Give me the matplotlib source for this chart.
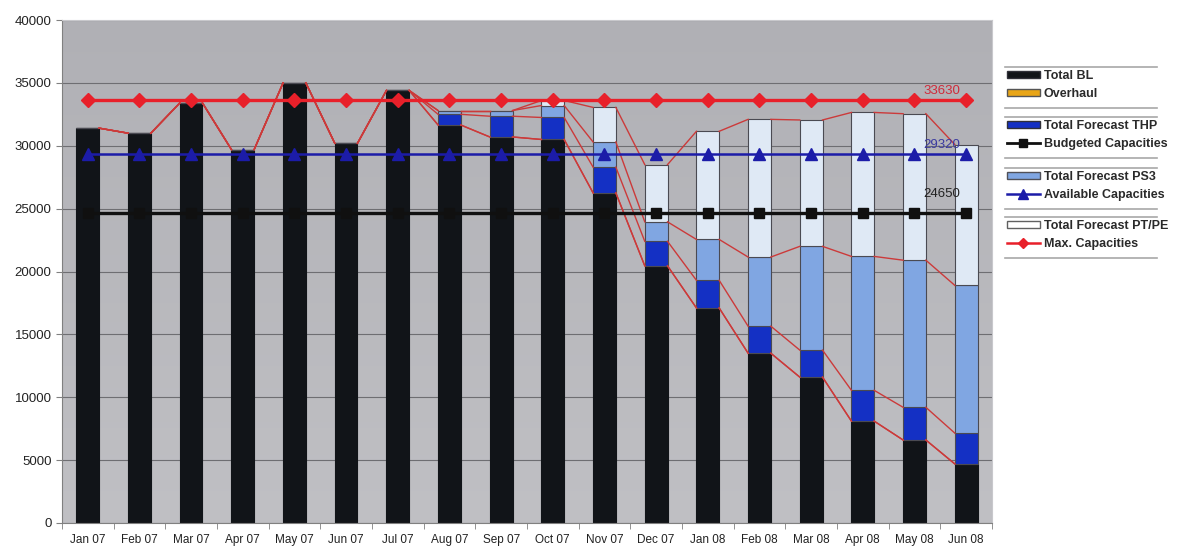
import numpy as np
import matplotlib.pyplot as plt
from matplotlib.colors import LinearSegmentedColormap
from matplotlib.patches import Patch
from matplotlib.lines import Line2D

plt.rcParams['font.family'] = ['Liberation Sans', 'DejaVu Sans']

months = ['Jan 07', 'Feb 07', 'Mar 07', 'Apr 07', 'May 07', 'Jun 07',
          'Jul 07', 'Aug 07', 'Sep 07', 'Oct 07', 'Nov 07', 'Dec 07',
          'Jan 08', 'Feb 08', 'Mar 08', 'Apr 08', 'May 08', 'Jun 08']

total_bl = [31400, 31000, 33400, 29700, 35000, 30200, 34400, 31650, 30700, 30500,
            26250, 20450, 17100, 13500, 11600, 8100, 6600, 4700]
overhaul = [0] * 18
forecast_thp = [0, 0, 0, 0, 0, 0, 0, 850, 1650, 1750,
                2050, 1950, 2200, 2150, 2150, 2450, 2600, 2450]
forecast_ps3 = [0, 0, 0, 0, 0, 0, 0, 300, 450, 950,
                2000, 1550, 3250, 5500, 8250, 10650, 11700, 11750]
forecast_ptpe = [0, 0, 0, 0, 0, 0, 0, 0, 0, 400,
                 2750, 4550, 8600, 10950, 10050, 11450, 11650, 11200]

budgeted = [24650] * 18
available = [29320] * 18
max_cap = [33630] * 18

x = np.arange(len(months))
w = 0.44

fig = plt.figure(figsize=(11.87, 5.47), dpi=100)
ax = fig.add_axes([0.0522, 0.0439, 0.7835, 0.9195])

# grey plot background, slightly darker towards the top
grad = np.linspace(0, 1, 256).reshape(-1, 1)
bg = LinearSegmentedColormap.from_list('bg', ['#c0c0c4', '#b0b0b5'])
ax.imshow(grad, extent=[-0.5, 17.5, 0, 40000], aspect='auto', origin='lower',
          cmap=bg, zorder=0)

series = [
    (total_bl, '#111418', 'Total BL'),
    (overhaul, '#e8a517', 'Overhaul'),
    (forecast_thp, '#1430c4', 'Total Forecast THP'),
    (forecast_ps3, '#80a6e2', 'Total Forecast PS3'),
    (forecast_ptpe, '#dfe9f5', 'Total Forecast PT/PE'),
]

bottom = np.zeros(len(months))
levels = []
for vals, col, lab in series:
    vals = np.array(vals, dtype=float)
    ax.bar(x, vals, w, bottom=bottom, color=col, edgecolor='#4a4a52' if lab != 'Total BL' else col,
           linewidth=0.8, zorder=2)
    bottom = bottom + vals
    levels.append(bottom.copy())

# series lines joining the stacked segments
for lev in levels:
    for i in range(len(months) - 1):
        ax.plot([x[i] + w / 2, x[i + 1] - w / 2], [lev[i], lev[i + 1]],
                color='#cc3a3a', lw=1.0, zorder=3)

ax.plot(x, budgeted, color='#101010', lw=2.4, marker='s', ms=7, zorder=4)
ax.plot(x, available, color='#1c1ca8', lw=1.8, marker='^', ms=8, zorder=4)
ax.plot(x, max_cap, color='#e8202a', lw=2.4, marker='D', ms=7, zorder=5)

ax.text(x[-1] - 0.12, max_cap[-1] + 250, str(max_cap[-1]), color='#d02a3a',
        fontsize=9.5, ha='right', va='bottom', zorder=6)
ax.text(x[-1] - 0.12, available[-1] + 250, str(available[-1]), color='#3a3aa0',
        fontsize=9.5, ha='right', va='bottom', zorder=6)
ax.text(x[-1] - 0.12, budgeted[-1] + 1050, str(budgeted[-1]), color='#222222',
        fontsize=9.5, ha='right', va='bottom', zorder=6)

ax.set_xlim(-0.5, 17.5)
ax.set_ylim(0, 40000)
ax.set_yticks(np.arange(0, 40001, 5000))
ax.set_xticks(x)
ax.set_xticklabels(months, fontsize=8.5, color='#222222')
ax.set_xticks(np.arange(-0.5, 17.6, 1), minor=True)
ax.tick_params(axis='x', which='major', length=0, pad=8)
ax.tick_params(axis='x', which='minor', length=4, color='#808080')
ax.tick_params(axis='y', length=4, color='#808080', labelsize=9.5, labelcolor='#222222')
ax.yaxis.grid(True, color='#6e6e72', lw=0.8, zorder=1)
ax.set_axisbelow(True)
for side in ['top', 'right']:
    ax.spines[side].set_color('#c8c8cc')
for side in ['left', 'bottom']:
    ax.spines[side].set_color('#808080')

# legend, in four boxed pairs
bold = {'weight': 'bold', 'size': 9}
pairs = [
    [Patch(facecolor='#111418', edgecolor='#303038'), Patch(facecolor='#e8a517', edgecolor='#555555')],
    [Patch(facecolor='#1430c4', edgecolor='#303038'),
     Line2D([], [], color='#101010', lw=2, marker='s', ms=6)],
    [Patch(facecolor='#80a6e2', edgecolor='#505058'),
     Line2D([], [], color='#1c1ca8', lw=1.8, marker='^', ms=7)],
    [Patch(facecolor='#ffffff', edgecolor='#606060'),
     Line2D([], [], color='#e8202a', lw=1.8, marker='D', ms=5)],
]
pair_labels = [['Total BL', 'Overhaul'],
               ['Total Forecast THP', 'Budgeted Capacities'],
               ['Total Forecast PS3', 'Available Capacities'],
               ['Total Forecast PT/PE', 'Max. Capacities']]
tops = [67, 117, 168, 217]
H, W = 547.0, 1187.0
for hs, ls, t in zip(pairs, pair_labels, tops):
    leg = fig.legend(hs, ls, loc='upper left', bbox_to_anchor=(1006 / W, 1 - (t + 2) / H),
                     frameon=False, prop=bold, handlelength=2.6, handleheight=0.5,
                     handletextpad=0.3, labelspacing=0.45, borderpad=0.1, borderaxespad=0)
    for txt in leg.get_texts():
        txt.set_color('#2a2a2a')
    for yy in (t, t + 41):
        fig.add_artist(Line2D([1005 / W, 1157 / W], [1 - yy / H, 1 - yy / H],
                              color='#a8a8a8', lw=1.2))

fig.savefig('out.png', dpi=100)
